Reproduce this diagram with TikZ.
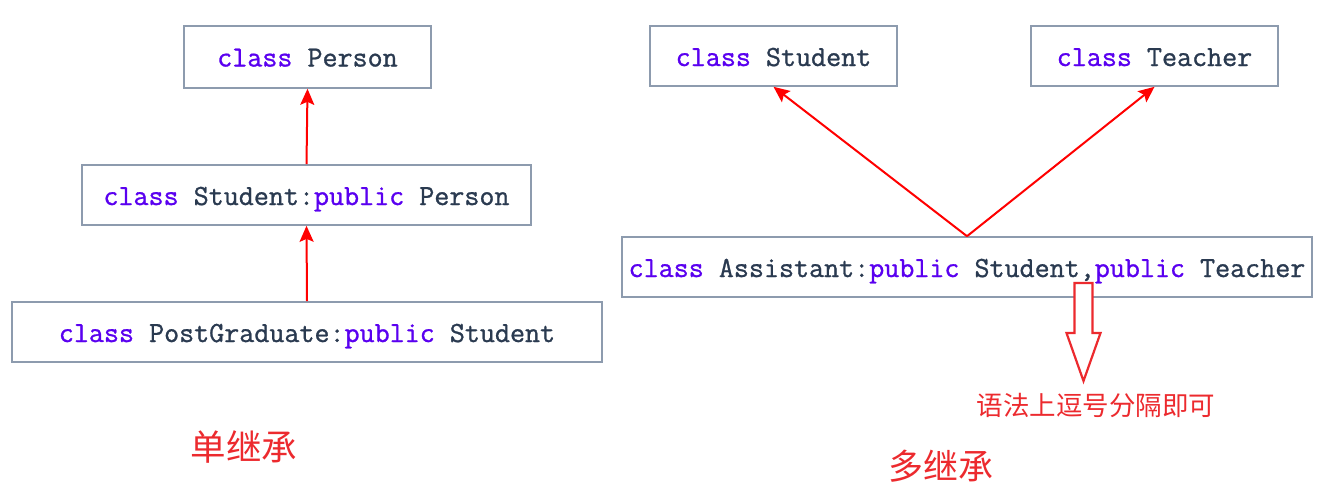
\documentclass[tikz,border=0pt]{standalone}
\usepackage{fontspec}
\setmonofont{Latin Modern Mono}[FakeBold=1]
\newfontfamily\cjk{Noto Sans CJK SC}
\usetikzlibrary{arrows.meta}
\definecolor{kw}{HTML}{5A00F0}
\definecolor{tx}{HTML}{2A3A50}
\definecolor{bd}{HTML}{8D9BAE}
\definecolor{ar}{HTML}{FF0000}
\definecolor{cn}{HTML}{EC2A2E}
\newcommand{\kw}[1]{\textcolor{kw}{#1}}
\tikzset{
  classbox/.style={draw=bd, line width=1.6pt, fill=white, inner sep=0pt,
    font=\ttfamily\fontsize{29.2pt}{32pt}\selectfont, text=tx,
    text height=20pt, text depth=0pt},
  inh/.style={draw=ar, line width=2pt, -{Stealth[length=16pt,width=14pt,inset=3pt]}},
  cnlabel/.style={text=cn, inner sep=0pt}
}
\begin{document}
\begin{tikzpicture}[x=1pt,y=-1pt]
\useasboundingbox (0,0) rectangle (1320,493);
% single inheritance
\node[classbox, minimum width=247pt, minimum height=62pt, text height=19pt] (person) at (307.5,57) {\kw{class} Person};
\node[classbox, minimum width=449pt, minimum height=60pt] (student) at (306.5,195) {\kw{class} Student:\kw{public} Person};
\node[classbox, minimum width=590pt, minimum height=60pt] (post) at (307,332) {\kw{class} PostGraduate:\kw{public} Student};
\draw[inh] (student.north) -- (person.south);
\draw[inh] (post.north) -- (student.south);
\node[cnlabel, font=\cjk\fontsize{35.5pt}{38pt}\selectfont] (single) at (244,447) {单继承};
% multiple inheritance
\node[classbox, minimum width=247pt, minimum height=60pt] (studr) at (773.5,56) {\kw{class} Student};
\node[classbox, minimum width=247pt, minimum height=60pt] (teacher) at (1154.5,56) {\kw{class} Teacher};
\node[classbox, minimum width=690pt, minimum height=60pt] (assist) at (967,267) {\kw{class} Assistant:\kw{public} Student,\kw{public} Teacher};
\draw[inh] (assist.north) -- (studr.south);
\draw[inh] (assist.north) -- (teacher.south);
% hollow arrow
\coordinate (hb) at (1083.5,283);
\draw[draw=cn, line width=2.2pt, fill=white, line join=miter]
  ([xshift=-9pt]hb) -- ([xshift=9pt]hb) -- ([xshift=9pt,yshift=-50pt]hb)
  -- ([xshift=17pt,yshift=-50pt]hb) -- ([yshift=-98pt]hb) -- ([xshift=-17pt,yshift=-50pt]hb)
  -- ([xshift=-9pt,yshift=-50pt]hb) -- cycle;
\node[cnlabel, font=\cjk\fontsize{26.5pt}{29pt}\selectfont] (note) at (1096,405) {语法上逗号分隔即可};
\node[cnlabel, font=\cjk\fontsize{35pt}{38pt}\selectfont] (multi) at (941,466) {多继承};
\end{tikzpicture}
\end{document}
